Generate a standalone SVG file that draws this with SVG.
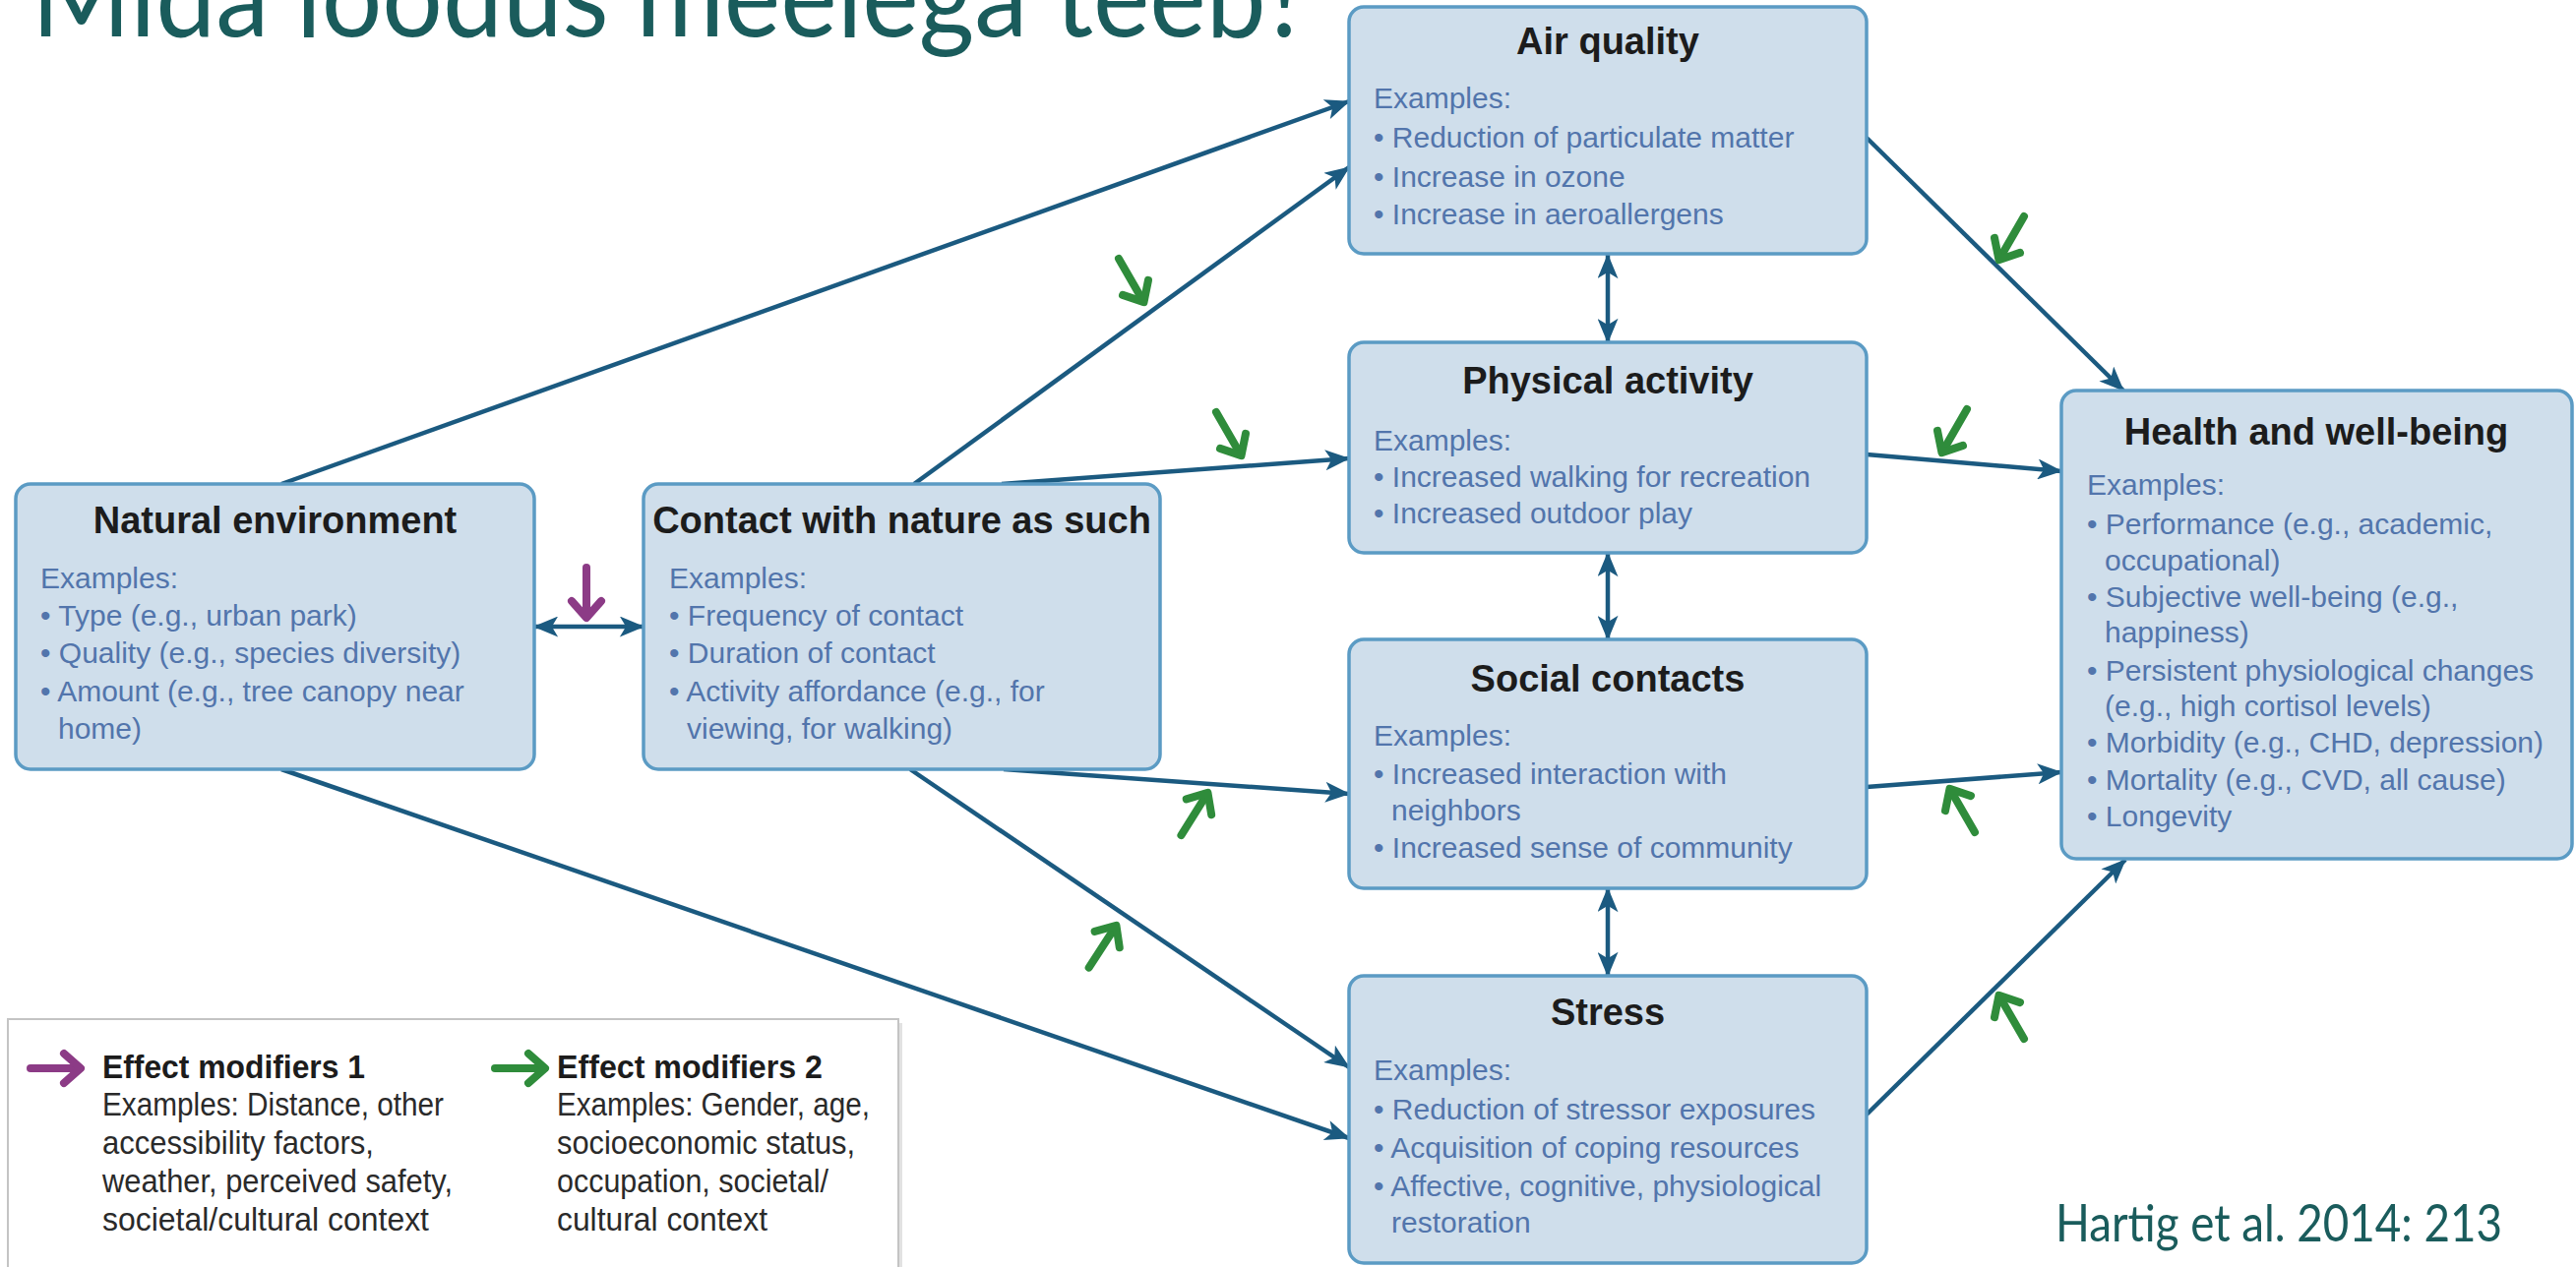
<svg xmlns="http://www.w3.org/2000/svg" xmlns:xlink="http://www.w3.org/1999/xlink" width="2618" height="1288" viewBox="0 0 2618 1288">
<style>
.box{fill:#cfdeeb;stroke:#5b9bc4;stroke-width:3.5}
.ttl{font-family:"Liberation Sans",Arial,sans-serif;font-weight:bold;font-size:38px;fill:#1c1c1c;text-anchor:middle}
.bd{font-family:"Liberation Sans",Arial,sans-serif;font-size:30px;fill:#5275ac}
.conn{stroke:#1b5a80;stroke-width:4.5;fill:none}
.grn{stroke:#2f8c3b;stroke-width:8;fill:none;stroke-linecap:round;stroke-linejoin:round}
.pur{stroke:#8c3b86;stroke-width:8;fill:none;stroke-linecap:round;stroke-linejoin:round}
.lg{font-family:"Liberation Sans",Arial,sans-serif;font-size:33px;fill:#2a2a2a}
.lgb{font-family:"Liberation Sans",Arial,sans-serif;font-size:34px;font-weight:bold;fill:#1c1c1c}
.teal{font-family:Lato,"Liberation Sans",sans-serif;fill:#1a5c5c}
</style>
<defs>
<marker id="ah" viewBox="0 0 24 20" refX="23" refY="10" markerWidth="26" markerHeight="21" markerUnits="userSpaceOnUse" orient="auto-start-reverse">
<path d="M0,0 L24,10 L0,20 L6,10 Z" fill="#1b5a80"/>
</marker>
<g id="garr" class="grn"><path d="M-52,0 L-3,0"/><path d="M-18,-15 L-1,0 L-18,15"/></g>
<g id="parr" class="pur"><path d="M-52,0 L-3,0"/><path d="M-18,-15 L-1,0 L-18,15"/></g>
</defs>
<rect width="2618" height="1288" fill="#ffffff"/>

<text class="teal" x="32" y="37" font-size="116" font-weight="400" textLength="1300" lengthAdjust="spacingAndGlyphs">Mida loodus meelega teeb?</text>

<g id="connectors">
<path class="conn" d="M286,492 L1371,103" marker-end="url(#ah)"/>
<path class="conn" d="M929,492 L1371,170" marker-end="url(#ah)"/>
<path class="conn" d="M1018,492 L1371,466" marker-end="url(#ah)"/>
<path class="conn" d="M1020,782 L1371,807" marker-end="url(#ah)"/>
<path class="conn" d="M925,782 L1371,1085" marker-end="url(#ah)"/>
<path class="conn" d="M286,782 L1371,1157" marker-end="url(#ah)"/>
<path class="conn" d="M543,637 L654,637" marker-start="url(#ah)" marker-end="url(#ah)"/>
<path class="conn" d="M1634,259 L1634,348" marker-start="url(#ah)" marker-end="url(#ah)"/>
<path class="conn" d="M1634,562 L1634,650" marker-start="url(#ah)" marker-end="url(#ah)"/>
<path class="conn" d="M1634,903 L1634,992" marker-start="url(#ah)" marker-end="url(#ah)"/>
<path class="conn" d="M1897,140 L2158,397" marker-end="url(#ah)"/>
<path class="conn" d="M1897,462 L2095,479" marker-end="url(#ah)"/>
<path class="conn" d="M1897,800 L2095,785" marker-end="url(#ah)"/>
<path class="conn" d="M1897,1133 L2160,874" marker-end="url(#ah)"/>
</g>

<g id="modifiers">
<use xlink:href="#garr" href="#garr" transform="translate(1163,308) rotate(60)"/>
<use xlink:href="#garr" href="#garr" transform="translate(1262,464) rotate(60)"/>
<use xlink:href="#garr" href="#garr" transform="translate(1228,805) rotate(-58)"/>
<use xlink:href="#garr" href="#garr" transform="translate(1135,940) rotate(-57)"/>
<use xlink:href="#garr" href="#garr" transform="translate(2031,265) rotate(120)"/>
<use xlink:href="#garr" href="#garr" transform="translate(1973,461) rotate(120)"/>
<use xlink:href="#garr" href="#garr" transform="translate(1981,801) rotate(-120)"/>
<use xlink:href="#garr" href="#garr" transform="translate(2031,1011) rotate(-120)"/>
<use xlink:href="#parr" href="#parr" transform="translate(596,629) rotate(90)"/>
</g>

<g id="natural-environment">
<rect class="box" x="16" y="492" width="527" height="290" rx="15"/>
<text class="ttl" x="279.5" y="542">Natural environment</text>
<text class="bd" x="41" y="598">Examples:</text>
<text class="bd" x="41" y="636">• Type (e.g., urban park)</text>
<text class="bd" x="41" y="674">• Quality (e.g., species diversity)</text>
<text class="bd" x="41" y="713">• Amount (e.g., tree canopy near</text>
<text class="bd" x="59" y="751">home)</text>
</g>

<g id="contact-with-nature">
<rect class="box" x="654" y="492" width="525" height="290" rx="15"/>
<text class="ttl" x="916.5" y="542" font-size="37">Contact with nature as such</text>
<text class="bd" x="680" y="598">Examples:</text>
<text class="bd" x="680" y="636">• Frequency of contact</text>
<text class="bd" x="680" y="674">• Duration of contact</text>
<text class="bd" x="680" y="713">• Activity affordance (e.g., for</text>
<text class="bd" x="698" y="751">viewing, for walking)</text>
</g>

<g id="air-quality">
<rect class="box" x="1371" y="7" width="526" height="251" rx="15"/>
<text class="ttl" x="1634" y="55">Air quality</text>
<text class="bd" x="1396" y="110">Examples:</text>
<text class="bd" x="1396" y="150">• Reduction of particulate matter</text>
<text class="bd" x="1396" y="190">• Increase in ozone</text>
<text class="bd" x="1396" y="228">• Increase in aeroallergens</text>
</g>

<g id="physical-activity">
<rect class="box" x="1371" y="348" width="526" height="214" rx="15"/>
<text class="ttl" x="1634" y="400">Physical activity</text>
<text class="bd" x="1396" y="458">Examples:</text>
<text class="bd" x="1396" y="495">• Increased walking for recreation</text>
<text class="bd" x="1396" y="532">• Increased outdoor play</text>
</g>

<g id="social-contacts">
<rect class="box" x="1371" y="650" width="526" height="253" rx="15"/>
<text class="ttl" x="1634" y="703">Social contacts</text>
<text class="bd" x="1396" y="758">Examples:</text>
<text class="bd" x="1396" y="797">• Increased interaction with</text>
<text class="bd" x="1414" y="834">neighbors</text>
<text class="bd" x="1396" y="872">• Increased sense of community</text>
</g>

<g id="stress">
<rect class="box" x="1371" y="992" width="526" height="292" rx="15"/>
<text class="ttl" x="1634" y="1042">Stress</text>
<text class="bd" x="1396" y="1098">Examples:</text>
<text class="bd" x="1396" y="1138">• Reduction of stressor exposures</text>
<text class="bd" x="1396" y="1177">• Acquisition of coping resources</text>
<text class="bd" x="1396" y="1216">• Affective, cognitive, physiological</text>
<text class="bd" x="1414" y="1253">restoration</text>
</g>

<g id="health-and-well-being">
<rect class="box" x="2095" y="397" width="519" height="476" rx="15"/>
<text class="ttl" x="2354" y="452">Health and well-being</text>
<text class="bd" x="2121" y="503">Examples:</text>
<text class="bd" x="2121" y="543">• Performance (e.g., academic,</text>
<text class="bd" x="2139" y="580">occupational)</text>
<text class="bd" x="2121" y="617">• Subjective well-being (e.g.,</text>
<text class="bd" x="2139" y="653">happiness)</text>
<text class="bd" x="2121" y="692">• Persistent physiological changes</text>
<text class="bd" x="2139" y="728">(e.g., high cortisol levels)</text>
<text class="bd" x="2121" y="765">• Morbidity (e.g., CHD, depression)</text>
<text class="bd" x="2121" y="803">• Mortality (e.g., CVD, all cause)</text>
<text class="bd" x="2121" y="840">• Longevity</text>
</g>

<g id="legend">
<rect x="12" y="1040" width="905" height="262" fill="#e2e2e2"/>
<rect x="8" y="1036" width="905" height="262" fill="#ffffff" stroke="#c4c4c4" stroke-width="2"/>
<use xlink:href="#parr" href="#parr" transform="translate(83,1086)"/>
<text class="lgb" x="104" y="1096" textLength="267" lengthAdjust="spacingAndGlyphs">Effect modifiers 1</text>
<text class="lg" x="104" y="1134" textLength="347" lengthAdjust="spacingAndGlyphs">Examples: Distance, other</text>
<text class="lg" x="104" y="1173" textLength="276" lengthAdjust="spacingAndGlyphs">accessibility factors,</text>
<text class="lg" x="104" y="1212" textLength="356" lengthAdjust="spacingAndGlyphs">weather, perceived safety,</text>
<text class="lg" x="104" y="1251" textLength="332" lengthAdjust="spacingAndGlyphs">societal/cultural context</text>
<use xlink:href="#garr" href="#garr" transform="translate(555,1086)"/>
<text class="lgb" x="566" y="1096" textLength="270" lengthAdjust="spacingAndGlyphs">Effect modifiers 2</text>
<text class="lg" x="566" y="1134" textLength="318" lengthAdjust="spacingAndGlyphs">Examples: Gender, age,</text>
<text class="lg" x="566" y="1173" textLength="303" lengthAdjust="spacingAndGlyphs">socioeconomic status,</text>
<text class="lg" x="566" y="1212" textLength="276" lengthAdjust="spacingAndGlyphs">occupation, societal/</text>
<text class="lg" x="566" y="1251" textLength="214" lengthAdjust="spacingAndGlyphs">cultural context</text>
</g>

<text class="teal" x="2089" y="1262" font-size="52" textLength="454" lengthAdjust="spacingAndGlyphs">Hartig et al. 2014: 213</text>
</svg>
